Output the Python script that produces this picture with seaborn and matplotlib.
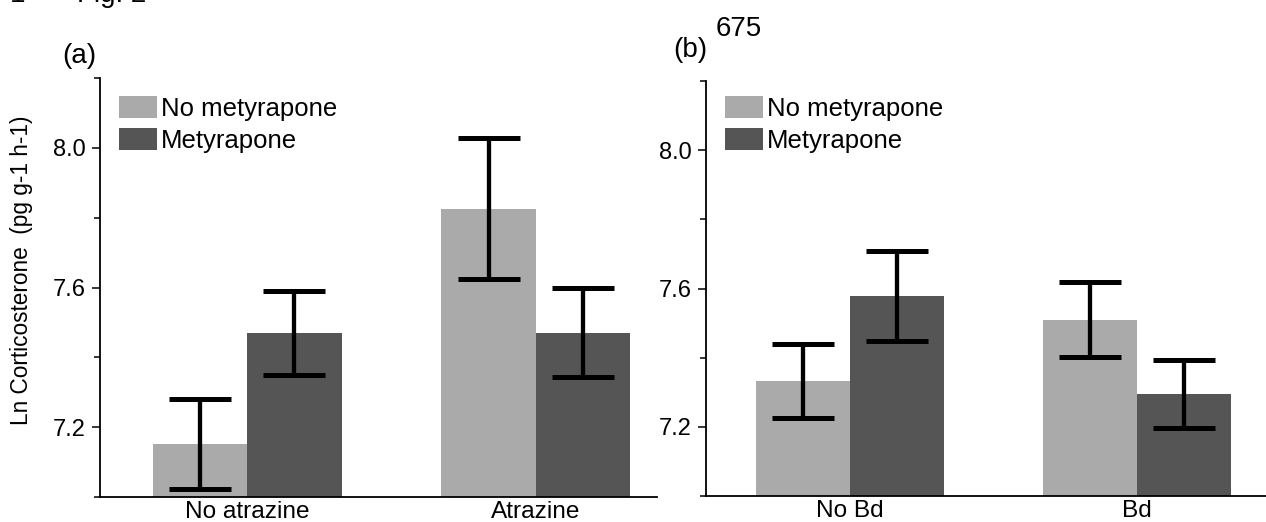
"""Recreate Fig. 2: ln corticosterone by metyrapone treatment, two panels."""

import matplotlib

matplotlib.use("Agg")

import matplotlib.pyplot as plt
import pandas as pd
import seaborn as sns
from matplotlib.ticker import MultipleLocator

# --- data ---------------------------------------------------------------
TREATMENTS = ["No metyrapone", "Metyrapone"]

ATRAZINE_GROUPS = ["No atrazine", "Atrazine"]
ATRAZINE_NO_MET = [7.151, 7.826]
ATRAZINE_MET = [7.469, 7.471]
ATRAZINE_NO_MET_ERR = [0.129, 0.203]
ATRAZINE_MET_ERR = [0.121, 0.128]

BD_GROUPS = ["No Bd", "Bd"]
BD_NO_MET = [7.332, 7.510]
BD_MET = [7.577, 7.295]
BD_NO_MET_ERR = [0.107, 0.108]
BD_MET_ERR = [0.130, 0.097]

Y_LIMITS = (7.0, 8.2)
COLORS = ["#aaaaaa", "#555555"]
TICK_SIZE = 17
XTICK_SIZE = 17.6
LEGEND_SIZE = 18.5
LABEL_SIZE = 16.3
NOTE_SIZE = 20
W, H = 1266, 522


def build_frame(groups, no_met, met):
    rows = []
    for treatment, values in zip(TREATMENTS, [no_met, met]):
        for group, value in zip(groups, values):
            rows.append({"group": group, "treatment": treatment, "value": value})
    return pd.DataFrame(rows)


def draw_panel(ax, groups, no_met, met, errors, xlim, legend_top):
    frame = build_frame(groups, no_met, met)
    sns.barplot(
        data=frame,
        x="group",
        y="value",
        hue="treatment",
        order=groups,
        hue_order=TREATMENTS,
        palette=COLORS,
        width=0.655,
        errorbar=None,
        saturation=1,
        linewidth=0,
        ax=ax,
    )
    for container, err in zip(ax.containers, errors):
        xs = [bar.get_x() + bar.get_width() / 2 for bar in container]
        ys = [bar.get_height() for bar in container]
        ax.errorbar(
            xs, ys, yerr=err, fmt="none", ecolor="black",
            elinewidth=3.1, capsize=22.5, capthick=3.6, zorder=5,
        )

    ax.set_xlim(*xlim)
    ax.set_ylim(*Y_LIMITS)
    ax.yaxis.set_major_locator(MultipleLocator(0.4))
    ax.yaxis.set_minor_locator(MultipleLocator(0.2))
    ax.set_xlabel("")
    ax.set_ylabel("")
    ax.tick_params(axis="y", which="major", length=6, width=1.1, pad=4,
                   labelsize=TICK_SIZE, color="black", labelcolor="black")
    ax.tick_params(axis="y", which="minor", length=4, width=1.1, color="black")
    ax.tick_params(axis="x", length=0, pad=3, labelsize=XTICK_SIZE,
                   labelcolor="black")
    for side in ("left", "bottom"):
        ax.spines[side].set_linewidth(1.3)
        ax.spines[side].set_color("black")
    sns.despine(ax=ax)

    sns.move_legend(
        ax, "upper left", bbox_to_anchor=(0.034, legend_top), title=None,
        frameon=False, fontsize=LEGEND_SIZE, borderpad=0, borderaxespad=0,
        handlelength=1.48, handleheight=0.93, handletextpad=0.16,
        labelspacing=0.28, labelcolor="black",
    )


sns.set_style("ticks")
plt.rcParams["font.family"] = ["Liberation Sans", "DejaVu Sans"]
plt.rcParams["text.color"] = "black"

fig = plt.figure(figsize=(W / 100, H / 100), dpi=100)
ax_a = fig.add_axes([100 / W, (H - 497) / H, (657 - 100) / W, (497 - 78) / H])
ax_b = fig.add_axes([706 / W, (H - 496) / H, (W - 706) / W, (496 - 81) / H])

draw_panel(ax_a, ATRAZINE_GROUPS, ATRAZINE_NO_MET, ATRAZINE_MET,
           [ATRAZINE_NO_MET_ERR, ATRAZINE_MET_ERR], (-0.51, 1.42), 0.957)
draw_panel(ax_b, BD_GROUPS, BD_NO_MET, BD_MET,
           [BD_NO_MET_ERR, BD_MET_ERR], (-0.50, 1.45), 0.964)

ax_a.set_ylabel("Ln Corticosterone  (pg g-1 h-1)", fontsize=LABEL_SIZE,
                color="black")
ax_a.yaxis.set_label_coords(-0.12, 0.54)

fig.text(62 / W, 1 - 63 / H, "(a)", fontsize=NOTE_SIZE, va="baseline")
fig.text(673 / W, 1 - 57 / H, "(b)", fontsize=NOTE_SIZE, va="baseline")
fig.text(716 / W, 1 - 36 / H, "675", fontsize=NOTE_SIZE, va="baseline")
fig.text(10 / W, 1 - 2.5 / H, "1", fontsize=NOTE_SIZE, va="baseline")
fig.text(77 / W, 1 - 2.5 / H, "Fig. 2", fontsize=NOTE_SIZE, va="baseline")

fig.savefig("out.png", dpi=100)
